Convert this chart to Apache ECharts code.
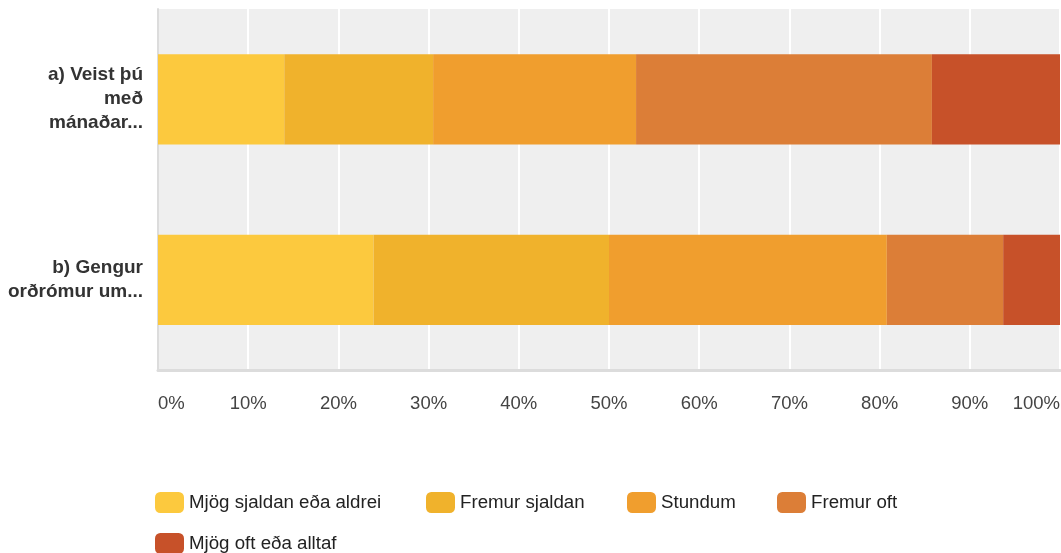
<!DOCTYPE html>
<html>
<head>
<meta charset="utf-8">
<script src="https://cdn.jsdelivr.net/npm/echarts@6/dist/echarts.min.js"></script>
<style>
  html, body { margin: 0; padding: 0; background: #fff; }
  #chart { width: 1061px; height: 553px; }
</style>
</head>
<body>
<div id="chart"></div>
<script>
const categories = ['a) Veist þú\nmeð\nmánaðar...', 'b) Gengur\norðrómur um...']
const seriesNames = ['Mjög sjaldan eða aldrei', 'Fremur sjaldan', 'Stundum', 'Fremur oft', 'Mjög oft eða alltaf']
// percent per answer, one value per category (a, b)
const mjogSjaldan = [14.0, 23.9]
const fremurSjaldan = [16.5, 26.1]
const stundum = [22.5, 30.8]
const fremurOft = [32.8, 12.9]
const mjogOft = [14.2, 6.3]
const colors = ['#fcc93e', '#f0b22c', '#f09e2e', '#dc7e37', '#c75129']

const values = [mjogSjaldan, fremurSjaldan, stundum, fremurOft, mjogOft]
const font = 'Liberation Sans, Arial, sans-serif'

// where each legend entry sits (two rows, like the original)
const legendSpots = [[155, 492], [426, 492], [627, 492], [777, 492], [155, 533]]

const chart = echarts.init(document.getElementById('chart'))

const legends = seriesNames.map((name, i) => ({
  data: [name],
  left: legendSpots[i][0],
  top: legendSpots[i][1],
  padding: 0,
  itemWidth: 29,
  itemHeight: 21,
  icon: 'roundRect',
  textStyle: { fontSize: 18.7, color: '#222', fontFamily: font }
}))

const option = {
  animation: false,
  textStyle: { fontFamily: font },
  grid: {
    left: 158,
    right: 1,
    top: 9,
    bottom: 183,
    outerBoundsMode: 'none',
    show: true,
    backgroundColor: '#efefef',
    borderWidth: 0
  },
  legend: legends,
  xAxis: {
    type: 'value',
    min: 0,
    max: 100,
    interval: 10,
    axisLine: { show: true, lineStyle: { color: '#dcdcdc', width: 3 } },
    axisTick: { show: false },
    splitLine: { show: true, lineStyle: { color: '#ffffff', width: 2 } },
    axisLabel: {
      formatter: '{value}%',
      fontSize: 18.5,
      color: '#444',
      margin: 24,
      alignMinLabel: 'left',
      alignMaxLabel: 'right'
    }
  },
  yAxis: {
    type: 'category',
    inverse: true,
    data: categories,
    axisLine: { show: true, lineStyle: { color: '#dcdcdc', width: 2 } },
    axisTick: { show: false },
    axisLabel: {
      fontSize: 19,
      fontWeight: 'bold',
      color: '#333',
      lineHeight: 24,
      margin: 15,
      align: 'right'
    }
  },
  series: seriesNames.map((name, i) => ({
    name: name,
    type: 'bar',
    stack: 'total',
    barWidth: '50%',
    itemStyle: { color: colors[i] },
    data: values[i]
  }))
}

chart.setOption(option)
window.addEventListener('resize', () => chart.resize())
</script>
</body>
</html>
